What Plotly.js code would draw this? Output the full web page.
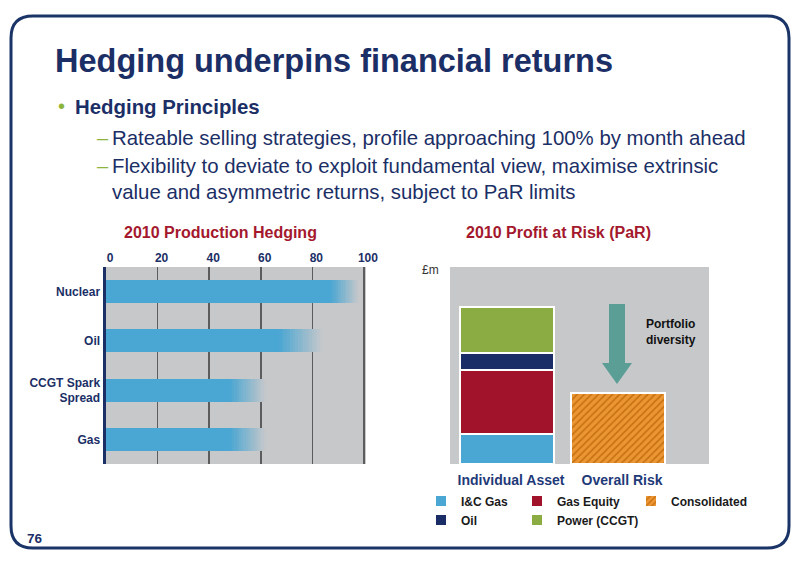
<!DOCTYPE html>
<html><head><meta charset="utf-8">
<script src="https://cdn.plot.ly/plotly-3.0.1.min.js"></script>
<style>html,body{margin:0;padding:0;background:#fff;}#chart{width:800px;height:565px;}</style>
</head><body><div id="chart"></div>
<script>
// ---------------- Data ----------------
const hedgeCategories = ["Nuclear", "Oil", "CCGT Spark<br>Spread", "Gas"];
const hedgeFirm  = [87, 67, 48, 48];   // % of 2010 production hedged (solid part)
const hedgeUpper = [98, 84, 62, 62];   // % upper end of the hedging band (faded part)
const hedgeTicks = [0, 20, 40, 60, 80, 100];

const parCategories = ["Individual Asset", "Overall Risk"];
const parAssetNames  = ["I&C Gas", "Gas Equity", "Oil", "Power (CCGT)"];
const parAssetValues = [15.2, 32.5, 8.7, 23.4];   // £m (relative), stacked
const parConsolidatedName = "Consolidated";
const parConsolidatedValue = 36;

// ---------------- Styles ----------------
const FONT = "Liberation Sans, Arial, Helvetica, sans-serif";
const NAVY = "#1b2f66";
const NAVY2 = "#1f3a78";
const CRIMSON = "#a4182d";
const GREEN_BUL = "#8db53c";
const BG_GRAY = "#c7c8ca";
const BAR_BLUE = "#4aa6d2";
const assetColors = ["#4aa6d2", "#a1122b", "#1a2d66", "#8aac42"];
const assetLegend = ["legend", "legend2", "legend", "legend2"];
const assetRank = [1, 1, 2, 2];

const W = 800, H = 565;
const X = px => px / W;
const Y = py => (H - py) / H;
const P = (x, y) => X(x).toFixed(5) + "," + Y(y).toFixed(5);

function hex2rgb(h){h=h.replace('#','');return [0,2,4].map(i=>parseInt(h.substr(i,2),16));}
function mix(a,b,t){const A=hex2rgb(a),B=hex2rgb(b);return 'rgb('+A.map((v,i)=>Math.round(v+(B[i]-v)*t)).join(',')+')';}

const traces = [];
// Left chart: solid hedge bars
traces.push({
  type: 'bar', orientation: 'h', y: hedgeCategories, x: hedgeFirm,
  xaxis: 'x', yaxis: 'y', width: 0.47,
  marker: {color: BAR_BLUE, line: {width: 0}}, showlegend: false, hoverinfo: 'skip'
});
// faded band from firm to upper value
const NSTEP = 16;
for (let k = 0; k < NSTEP; k++) {
  const t = (k + 0.5) / NSTEP;
  traces.push({
    type: 'bar', orientation: 'h', y: hedgeCategories,
    x: hedgeUpper.map((u, i) => (u - hedgeFirm[i]) / NSTEP),
    xaxis: 'x', yaxis: 'y', width: 0.47,
    marker: {color: mix(BAR_BLUE, BG_GRAY, t), line: {width: 0}},
    showlegend: false, hoverinfo: 'skip'
  });
}
// Right chart: stacked PaR by asset
parAssetNames.forEach((name, i) => {
  traces.push({
    type: 'bar', name: name, x: [parCategories[0]], y: [parAssetValues[i]],
    xaxis: 'x2', yaxis: 'y2', width: 0.85, legend: assetLegend[i], legendrank: assetRank[i],
    marker: {color: assetColors[i], line: {color: '#ffffff', width: 2}},
    hoverinfo: 'skip'
  });
});
traces.push({
  type: 'bar', name: parConsolidatedName, x: [parCategories[1]], y: [parConsolidatedValue],
  xaxis: 'x2', yaxis: 'y2', width: 0.85, legend: 'legend3',
  marker: {color: '#ea9633', line: {color: '#ffffff', width: 2},
    pattern: {shape: '/', fgcolor: '#c66f12', bgcolor: '#ea9633', size: 5, solidity: 0.3, fillmode: 'replace'}},
  hoverinfo: 'skip'
});

// ---------------- Decorations ----------------
const r = 22, bx0 = 11, bx1 = 789, by0 = 16, by1 = 548;
const borderPath = "M" + P(bx0 + r, by0) + " L" + P(bx1 - r, by0) + " Q" + P(bx1, by0) + " " + P(bx1, by0 + r) +
  " L" + P(bx1, by1 - r) + " Q" + P(bx1, by1) + " " + P(bx1 - r, by1) +
  " L" + P(bx0 + r, by1) + " Q" + P(bx0, by1) + " " + P(bx0, by1 - r) +
  " L" + P(bx0, by0 + r) + " Q" + P(bx0, by0) + " " + P(bx0 + r, by0) + " Z";
const arrowPath = "M" + P(609, 304) + " L" + P(625, 304) + " L" + P(625, 363) + " L" + P(632, 363) +
  " L" + P(617, 384) + " L" + P(602, 363) + " L" + P(609, 363) + " Z";

const shapes = [
  {type: 'path', xref: 'paper', yref: 'paper', path: borderPath, line: {color: '#1b3467', width: 3}, fillcolor: 'rgba(0,0,0,0)', layer: 'below'},
  {type: 'path', xref: 'paper', yref: 'paper', path: arrowPath, line: {width: 0}, fillcolor: '#5a9e96'}
];

function ann(text, x, y, opts) {
  return Object.assign({text: text, x: X(x), y: Y(y), xref: 'paper', yref: 'paper', showarrow: false,
    xanchor: 'left', yanchor: 'middle', align: 'left', font: {family: FONT, size: 12, color: NAVY}}, opts || {});
}
const annotations = [
  ann("<b>Hedging underpins financial returns</b>", 53, 61.5, {font: {family: FONT, size: 32.5, color: NAVY}}),
  ann("•", 56, 106, {font: {family: FONT, size: 20, color: GREEN_BUL}}),
  ann("<b>Hedging Principles</b>", 73, 107, {font: {family: FONT, size: 20.4, color: NAVY}}),
  ann("–", 95, 138, {font: {family: FONT, size: 20, color: GREEN_BUL}}),
  ann("Rateable selling strategies, profile approaching 100% by month ahead", 110, 138, {font: {family: FONT, size: 20.4, color: NAVY}}),
  ann("–", 95, 166, {font: {family: FONT, size: 20, color: GREEN_BUL}}),
  ann("Flexibility to deviate to exploit fundamental view, maximise extrinsic", 110, 166, {font: {family: FONT, size: 20.4, color: NAVY}}),
  ann("value and asymmetric returns, subject to PaR limits", 110, 192, {font: {family: FONT, size: 20.4, color: NAVY}}),
  ann("<b>2010 Production Hedging</b>", 220, 233, {xanchor: 'center', font: {family: FONT, size: 16, color: CRIMSON}}),
  ann("<b>2010 Profit at Risk (PaR)</b>", 558.5, 233, {xanchor: 'center', font: {family: FONT, size: 16, color: CRIMSON}}),
  ann("£m", 420, 270, {font: {family: FONT, size: 12, color: '#333333'}}),
  ann("<b>Portfolio<br>diversity</b>", 644, 332, {font: {family: FONT, size: 12, color: '#111111'}}),
  ann("<b>76</b>", 25, 538, {font: {family: FONT, size: 13.5, color: NAVY}})
];

const legendFont = {family: FONT, size: 12, color: '#1a1a1a', weight: 'bold'};
function legendAt(xpx, ypx) {
  return {x: X(xpx), y: Y(ypx), xanchor: 'left', yanchor: 'middle', orientation: 'v',
    traceorder: 'normal', bgcolor: 'rgba(0,0,0,0)', borderwidth: 0, font: legendFont};
}

const layout = {
  width: W, height: H, margin: {l: 0, r: 0, t: 0, b: 0},
  paper_bgcolor: '#ffffff', plot_bgcolor: BG_GRAY,
  barmode: 'stack', hovermode: false, showlegend: true,
  font: {family: FONT},
  xaxis: {domain: [X(106), X(366)], anchor: 'y', range: [0, 100.8], side: 'top',
    tickvals: hedgeTicks, ticktext: hedgeTicks.map(String), showgrid: true, gridcolor: '#5c5c5c', gridwidth: 1.5,
    zeroline: false, showline: false, ticks: '', fixedrange: true, ticklabelshift: 4, ticklabelstandoff: 2,
    tickfont: {family: FONT, size: 12, color: NAVY, weight: 'bold'}},
  yaxis: {domain: [Y(464), Y(267)], anchor: 'x', type: 'category', categoryarray: hedgeCategories,
    autorange: 'reversed', showline: true, linecolor: NAVY, linewidth: 3.5, ticks: '',
    showgrid: false, zeroline: false, fixedrange: true,
    tickfont: {family: FONT, size: 12, color: NAVY, weight: 'bold'}},
  xaxis2: {domain: [X(450), X(709)], anchor: 'y2', type: 'category', categoryarray: parCategories,
    range: [-0.514, 1.82], showgrid: false, zeroline: false, showline: false, ticks: '', fixedrange: true,
    ticklabelshift: 4, ticklabelstandoff: 6,
    tickfont: {family: FONT, size: 14, color: NAVY2, weight: 'bold'}},
  yaxis2: {domain: [Y(464), Y(267)], anchor: 'x2', range: [0, 100], showticklabels: false,
    showgrid: false, zeroline: false, showline: false, ticks: '', fixedrange: true},
  legend: legendAt(421, 510.5),
  legend2: legendAt(517, 510.5),
  legend3: legendAt(631, 501),
  shapes: shapes,
  annotations: annotations
};

Plotly.newPlot('chart', traces, layout, {staticPlot: true, displayModeBar: false});
</script>
</body></html>
